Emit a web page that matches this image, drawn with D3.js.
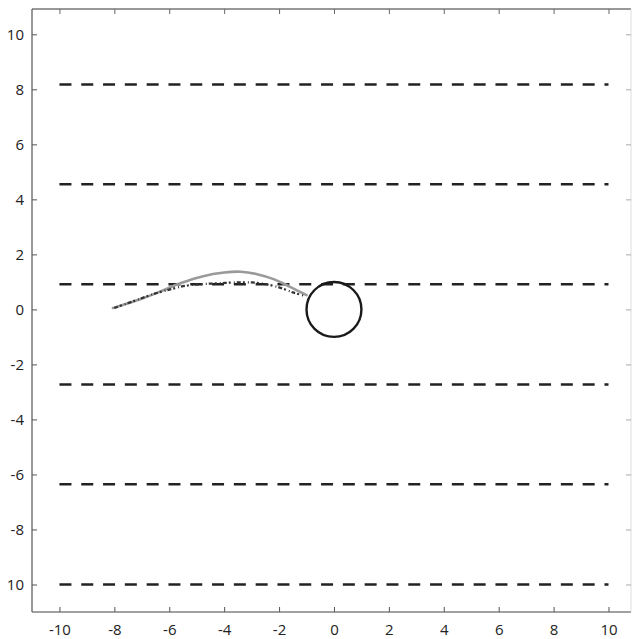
<!DOCTYPE html>
<html>
<head>
<meta charset="utf-8">
<script src="https://cdn.jsdelivr.net/npm/d3@7"></script>
<style>
  body { margin: 0; background: #fff; }
  svg text { font-family: "Open Sans", "Liberation Sans", sans-serif; font-size: 15px; fill: #222; }
</style>
</head>
<body>
<svg id="chart"></svg>
<script>
// axis ticks
const xTicks = [-10, -8, -6, -4, -2, 0, 2, 4, 6, 8, 10];
const xTickLabels = ["-10", "-8", "-6", "-4", "-2", "0", "2", "4", "6", "8", "10"];
const yTicks = [10, 8, 6, 4, 2, 0, -2, -4, -6, -8, -10];
const yTickLabels = ["10", "8", "6", "4", "2", "0", "-2", "-4", "-6", "-8", "10"];

// horizontal dashed lines
const laneY = [8.18, 4.55, 0.91, -2.73, -6.36, -10];
const laneStart = -10, laneEnd = 10;

// circle obstacle
const circleX = 0, circleY = 0, circleR = 1;

// light smooth path
const grayX = [-8.05, -7.2, -6.4, -5.6, -4.8, -4.0, -3.4, -2.8, -2.2, -1.6, -1.0];
const grayY = [0.05, 0.32, 0.62, 0.95, 1.2, 1.34, 1.37, 1.28, 1.1, 0.82, 0.52];

// dark dotted path
const darkX = [-8.0, -7.3, -6.6, -6.0, -5.4, -4.8, -4.2, -3.6, -3.0, -2.5, -2.0, -1.5, -1.1];
const darkY = [0.05, 0.3, 0.55, 0.72, 0.86, 0.92, 0.95, 0.98, 0.98, 0.92, 0.8, 0.62, 0.5];

function drawChart() {
    var svgWidth = 632, svgHeight = 639;
    var mLeft = 32, mTop = 9, mRight = 631, mBottom = 612;
    var svg = d3.select('#chart').attr("width", svgWidth).attr("height", svgHeight);

    var x = d3.scaleLinear().domain([-11, 10.82]).range([mLeft, mRight]);
    var y = d3.scaleLinear().domain([-11, 10.92]).range([mBottom, mTop]);

    // frame
    svg.append("line").attr("x1", mLeft).attr("x2", mRight).attr("y1", mTop).attr("y2", mTop)
        .attr("stroke", "#333").attr("stroke-width", 1.2);
    svg.append("line").attr("x1", mLeft).attr("x2", mRight).attr("y1", mBottom).attr("y2", mBottom)
        .attr("stroke", "#444").attr("stroke-width", 1.2);
    svg.append("line").attr("x1", mLeft).attr("x2", mLeft).attr("y1", mTop).attr("y2", mBottom)
        .attr("stroke", "#555").attr("stroke-width", 1.2);
    svg.append("line").attr("x1", mRight).attr("x2", mRight).attr("y1", mTop).attr("y2", mBottom)
        .attr("stroke", "#ddd").attr("stroke-width", 1);

    // inward ticks
    var tickLen = 5;
    svg.append("g").attr("transform", "translate(0," + mBottom + ")")
        .call(d3.axisBottom(x).tickValues(xTicks).tickSize(-tickLen).tickPadding(12)
            .tickFormat((d, i) => xTickLabels[i]))
        .call(g => g.select(".domain").remove())
        .call(g => g.selectAll("line").attr("stroke", "#555"))
        .call(g => g.selectAll("text").attr("dy", "0.71em"));

    svg.append("g").attr("transform", "translate(0," + mTop + ")")
        .call(d3.axisTop(x).tickValues(xTicks).tickSize(-tickLen).tickFormat(""))
        .call(g => g.select(".domain").remove())
        .call(g => g.selectAll("line").attr("stroke", "#666"));

    svg.append("g").attr("transform", "translate(" + mLeft + ",0)")
        .call(d3.axisLeft(y).tickValues(yTicks).tickSize(-tickLen).tickPadding(8)
            .tickFormat((d, i) => yTickLabels[i]))
        .call(g => g.select(".domain").remove())
        .call(g => g.selectAll("line").attr("stroke", "#555"));

    svg.append("g").attr("transform", "translate(" + mRight + ",0)")
        .call(d3.axisRight(y).tickValues(yTicks).tickSize(-tickLen).tickFormat(""))
        .call(g => g.select(".domain").remove())
        .call(g => g.selectAll("line").attr("stroke", "#aaa"));

    svg.selectAll(".tick text").style("font-size", "15px").attr("fill", "#222");

    // dashed lanes
    svg.append("g").selectAll("line").data(laneY).enter().append("line")
        .attr("x1", x(laneStart)).attr("x2", x(laneEnd))
        .attr("y1", d => y(d)).attr("y2", d => y(d))
        .attr("stroke", "#222").attr("stroke-width", 2.5)
        .attr("stroke-dasharray", "12,9.8");

    // circle
    svg.append("circle")
        .attr("cx", x(circleX)).attr("cy", y(circleY))
        .attr("r", x(circleR) - x(0))
        .attr("fill", "none").attr("stroke", "#1a1a1a").attr("stroke-width", 2.4);

    var line = d3.line().curve(d3.curveCatmullRom)
        .x(d => x(d[0])).y(d => y(d[1]));

    var grayData = grayX.map((v, i) => [v, grayY[i]]);
    var darkData = darkX.map((v, i) => [v, darkY[i]]);

    svg.append("path").datum(grayData).attr("fill", "none")
        .attr("stroke", "#9a9a9a").attr("stroke-width", 2.6)
        .attr("stroke-linecap", "round").attr("d", line);

    svg.append("path").datum(darkData).attr("fill", "none")
        .attr("stroke", "#333").attr("stroke-width", 2.2)
        .attr("stroke-dasharray", "4,2,2,3,1,2")
        .attr("d", line);
}

drawChart();
</script>
</body>
</html>
